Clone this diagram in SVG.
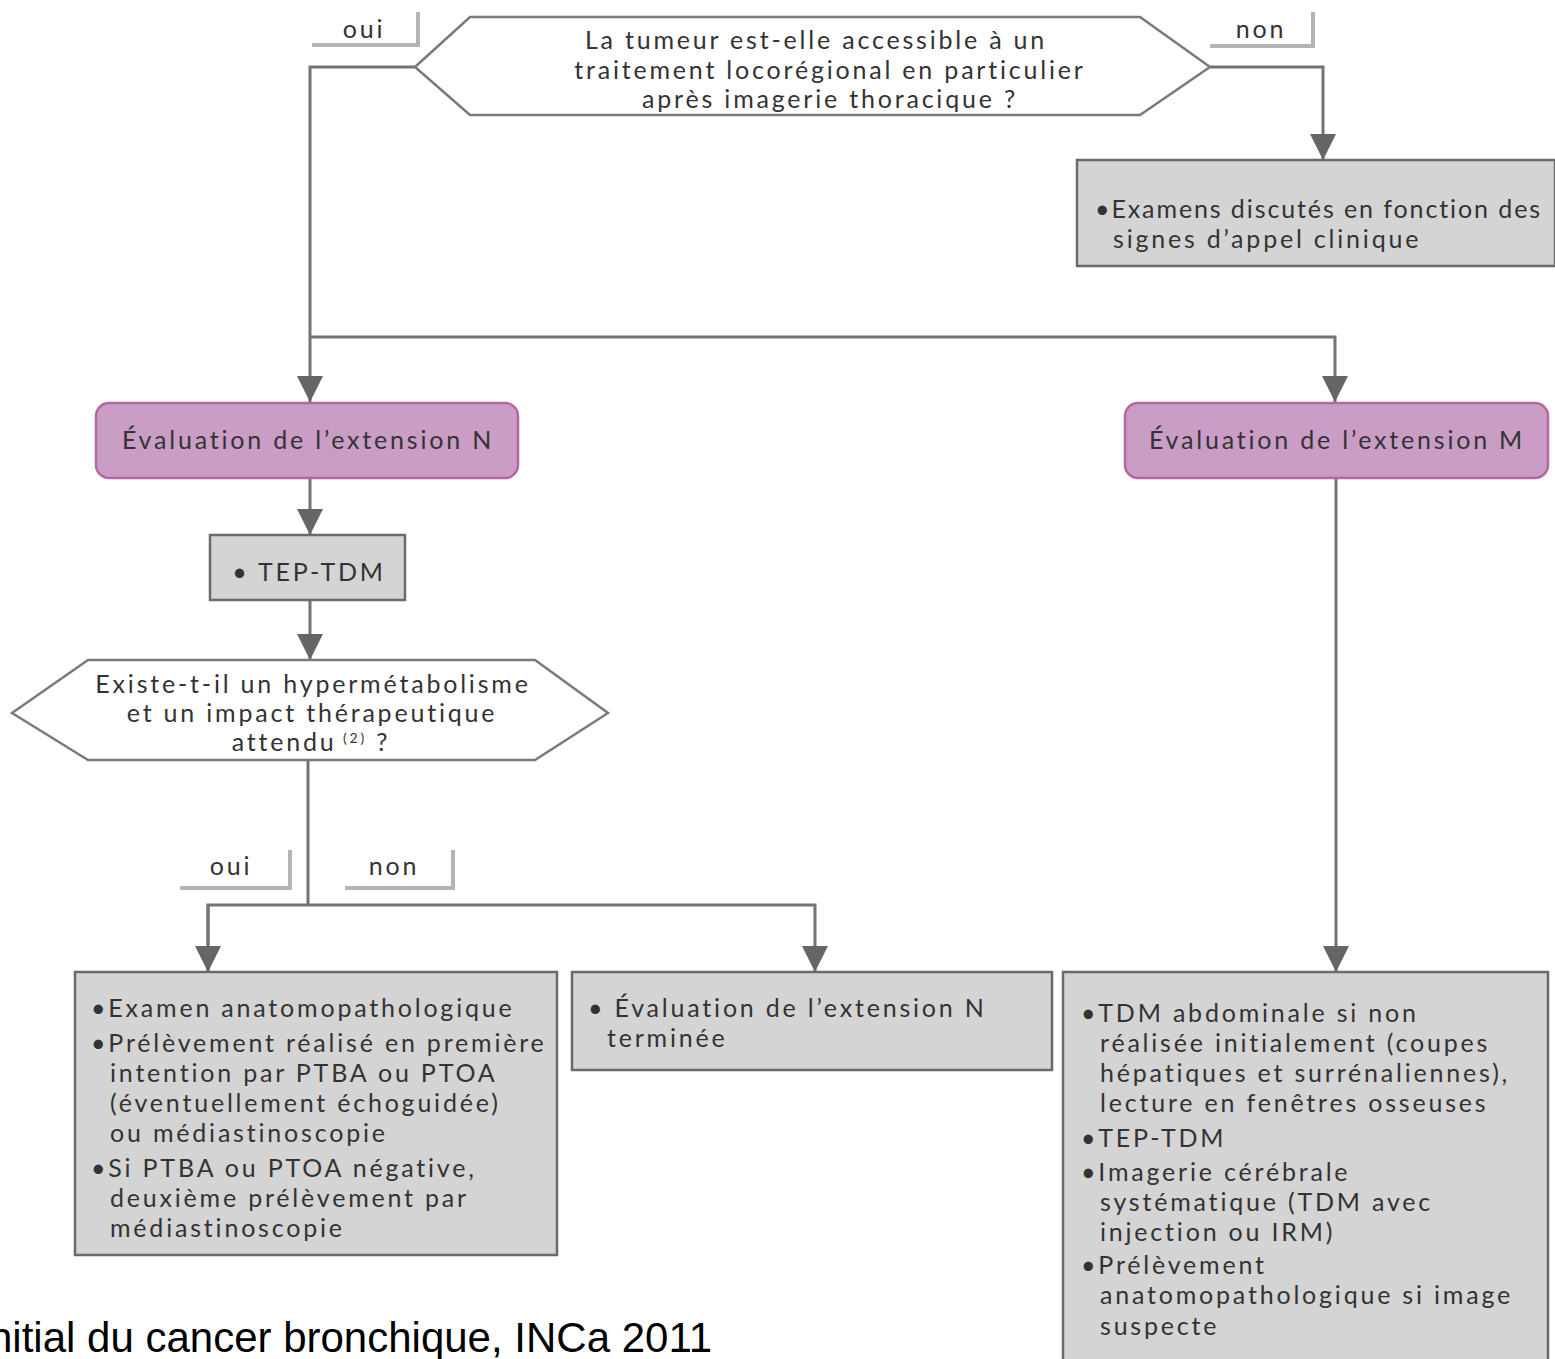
<svg xmlns="http://www.w3.org/2000/svg" width="1555" height="1359" viewBox="0 0 1555 1359">
<defs>
<style>
.t{font-family:Lato,"Open Sans","DejaVu Sans",sans-serif;font-size:25px;fill:#333;letter-spacing:2.8px}
.c{text-anchor:middle}
.ln{fill:none;stroke:#737373;stroke-width:3}
.box{fill:#d4d4d4;stroke:#6a6a6a;stroke-width:2.5}
.pink{fill:#c99dc5;stroke:#b5679f;stroke-width:2.5}
.hex{fill:#fff;stroke:#7a7a7a;stroke-width:2.5}
.tab{fill:none;stroke:#b4b4b4;stroke-width:4}
</style>
<marker id="ah" markerUnits="userSpaceOnUse" markerWidth="28" markerHeight="26" refX="26" refY="13" orient="auto">
<path d="M0,0 L26,13 L0,26 Z" fill="#666"/>
</marker>
</defs>
<rect width="1555" height="1359" fill="#fff"/>

<g id="connectors">
<polyline class="ln" points="1210,67 1323,67 1323,160" marker-end="url(#ah)"/>
<polyline class="ln" points="415,67 310,67 310,402" marker-end="url(#ah)"/>
<polyline class="ln" points="310,337 1335,337 1335,402" marker-end="url(#ah)"/>
<line class="ln" x1="310" y1="478" x2="310" y2="535" marker-end="url(#ah)"/>
<line class="ln" x1="310" y1="600" x2="310" y2="660" marker-end="url(#ah)"/>
<line class="ln" x1="308" y1="760" x2="308" y2="905"/>
<polyline class="ln" points="208,972 208,905 815,905 815,972" marker-end="url(#ah)"/>
<line class="ln" x1="208" y1="905" x2="208" y2="972" marker-end="url(#ah)"/>
<line class="ln" x1="1336" y1="478" x2="1336" y2="972" marker-end="url(#ah)"/>
</g>

<g id="label-oui-top">
<polyline class="tab" points="312,45 418,45 418,12"/>
<text class="t c" x="364" y="38">oui</text>
</g>
<g id="label-non-top">
<polyline class="tab" points="1210,46 1313,46 1313,12"/>
<text class="t c" x="1261" y="38">non</text>
</g>

<g id="decision-top">
<polygon class="hex" points="415,67 470,17 1140,17 1210,67 1140,115 470,115"/>
<text class="t c" x="816" y="49">La tumeur est-elle accessible à un</text>
<text class="t c" x="830" y="79">traitement locorégional en particulier</text>
<text class="t c" x="830" y="108">après imagerie thoracique ?</text>
</g>

<g id="box-examens">
<rect class="box" x="1077" y="160" width="478" height="106"/>
<text class="t" x="1095" y="218" style="letter-spacing:1.9px">•Examens discutés en fonction des</text>
<text class="t" x="1113" y="248">signes d’appel clinique</text>
</g>

<g id="eval-n">
<rect class="pink" x="96" y="403" width="422" height="75" rx="13"/>
<text class="t c" x="308" y="449">Évaluation de l’extension N</text>
</g>
<g id="eval-m">
<rect class="pink" x="1125" y="403" width="423" height="75" rx="13"/>
<text class="t c" x="1337" y="449">Évaluation de l’extension M</text>
</g>

<g id="tep-tdm">
<rect class="box" x="210" y="535" width="195" height="65"/>
<text class="t c" x="309" y="581">• TEP-TDM</text>
</g>

<g id="decision-hyper">
<polygon class="hex" points="12,713 88,660 535,660 608,713 535,760 88,760"/>
<text class="t c" x="313" y="693">Existe-t-il un hypermétabolisme</text>
<text class="t c" x="312" y="722">et un impact thérapeutique</text>
<text class="t c" x="311" y="751">attendu<tspan font-size="14" dy="-8"> (2)</tspan><tspan dy="8"> ?</tspan></text>
</g>

<g id="label-oui-mid">
<polyline class="tab" points="180,888 290,888 290,850"/>
<text class="t c" x="231" y="875">oui</text>
</g>
<g id="label-non-mid">
<polyline class="tab" points="345,888 453,888 453,850"/>
<text class="t c" x="394" y="875">non</text>
</g>

<g id="box-anapath">
<rect class="box" x="75" y="972" width="482" height="283"/>
<text class="t" x="91" y="1017">•Examen anatomopathologique</text>
<text class="t" x="91" y="1052">•Prélèvement réalisé en première</text>
<text class="t" x="110" y="1082">intention par PTBA ou PTOA</text>
<text class="t" x="110" y="1112">(éventuellement échoguidée)</text>
<text class="t" x="110" y="1142">ou médiastinoscopie</text>
<text class="t" x="91" y="1177">•Si PTBA ou PTOA négative,</text>
<text class="t" x="110" y="1207">deuxième prélèvement par</text>
<text class="t" x="110" y="1237">médiastinoscopie</text>
</g>

<g id="box-terminee">
<rect class="box" x="572" y="972" width="480" height="98"/>
<text class="t" x="588" y="1017">• Évaluation de l’extension N</text>
<text class="t" x="607" y="1047">terminée</text>
</g>

<g id="box-m">
<rect class="box" x="1063" y="972" width="485" height="400"/>
<text class="t" x="1081" y="1022">•TDM abdominale si non</text>
<text class="t" x="1100" y="1052">réalisée initialement (coupes</text>
<text class="t" x="1100" y="1082">hépatiques et surrénaliennes),</text>
<text class="t" x="1100" y="1112">lecture en fenêtres osseuses</text>
<text class="t" x="1081" y="1147">•TEP-TDM</text>
<text class="t" x="1081" y="1181">•Imagerie cérébrale</text>
<text class="t" x="1100" y="1211">systématique (TDM avec</text>
<text class="t" x="1100" y="1241">injection ou IRM)</text>
<text class="t" x="1081" y="1274">•Prélèvement</text>
<text class="t" x="1100" y="1304">anatomopathologique si image</text>
<text class="t" x="1100" y="1335">suspecte</text>
</g>

<text id="footer" x="712" y="1352" text-anchor="end" font-family="'Liberation Sans',Arial,sans-serif" font-size="42" fill="#000">nitial du cancer bronchique, INCa 2011</text>
</svg>
